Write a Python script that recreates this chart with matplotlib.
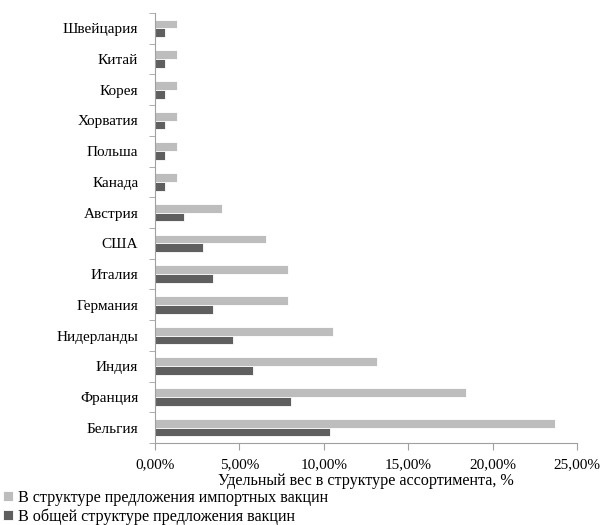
import matplotlib.pyplot as plt
import numpy as np
from matplotlib.ticker import FuncFormatter

plt.rcParams['font.family'] = ['Liberation Serif', 'DejaVu Serif']

countries = ['Бельгия', 'Франция', 'Индия', 'Нидерланды', 'Германия', 'Италия', 'США',
             'Австрия', 'Канада', 'Польша', 'Хорватия', 'Корея', 'Китай', 'Швейцария']
imported = [23.7, 18.45, 13.18, 10.55, 7.9, 7.9, 6.59, 3.96, 1.32, 1.32, 1.32, 1.32, 1.32, 1.32]
total = [10.35, 8.06, 5.78, 4.61, 3.46, 3.46, 2.87, 1.72, 0.57, 0.57, 0.57, 0.57, 0.57, 0.57]

label_imp = 'В структуре предложения импортных вакцин'
label_tot = 'В общей структуре предложения вакцин'

fig = plt.figure(figsize=(6.01, 5.25), dpi=100)
ax = fig.add_axes([155 / 601, 1 - 443 / 525, 422 / 601, 430 / 525])

y = np.arange(len(countries))
h = 0.285
ax.barh(y + h / 2, imported, height=h, color='#bdbdbd', edgecolor='white', linewidth=0.6, label=label_imp)
ax.barh(y - h / 2, total, height=h, color='#5f5f5f', edgecolor='white', linewidth=0.6, label=label_tot)

ax.set_xlim(0, 25)
ax.set_ylim(-0.5, len(countries) - 0.5)
ax.set_xticks(np.arange(0, 26, 5))
ax.xaxis.set_major_formatter(FuncFormatter(lambda v, p: f'{v:.2f}%'.replace('.', ',')))
ax.set_yticks(y)
ax.set_yticklabels(countries)
ax.set_yticks(np.arange(-0.5, len(countries), 1), minor=True)
ax.tick_params(axis='y', which='major', length=0, pad=12, labelsize=11)
ax.tick_params(axis='y', which='minor', length=4, color='#a0a0a0', direction='out')
ax.tick_params(axis='x', length=5, color='#a0a0a0', labelsize=11, pad=6)

for s in ['top', 'right']:
    ax.spines[s].set_visible(False)
for s in ['left', 'bottom']:
    ax.spines[s].set_color('#a0a0a0')

ax.set_xlabel('Удельный вес в структуре ассортимента, %', fontsize=11.6, labelpad=1)

fig.legend(loc='lower left', bbox_to_anchor=(-0.005, -0.012), frameon=False, fontsize=11.6,
           handlelength=0.6, handleheight=0.6, handletextpad=0.3, labelspacing=0.15,
           borderaxespad=0.0)

fig.savefig('out.png', dpi=100)
